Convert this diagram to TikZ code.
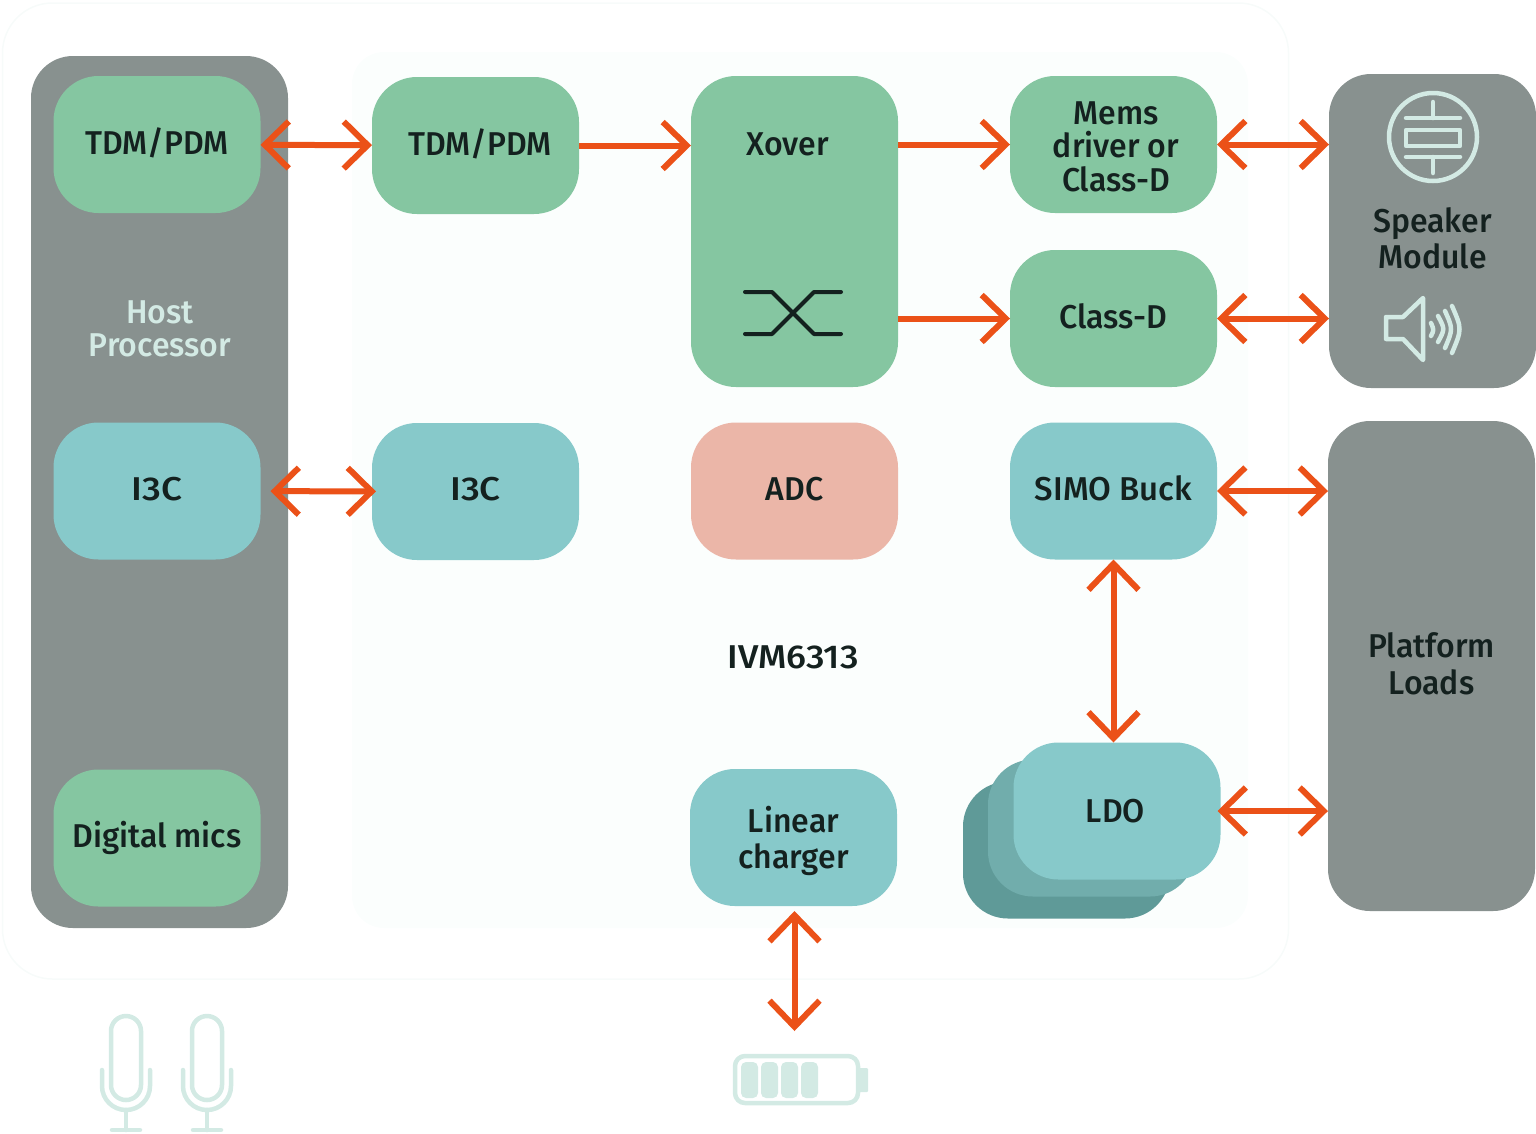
\documentclass[tikz,border=0pt]{standalone}
\usepackage{fontspec}
\setmainfont{Fira Sans Medium}[FakeStretch=0.97]
\usetikzlibrary{arrows.meta}
\definecolor{hostgray}{HTML}{88918F}
\definecolor{blockgreen}{HTML}{85C6A1}
\definecolor{blockteal}{HTML}{87C9CA}
\definecolor{blockred}{HTML}{EBB6A8}
\definecolor{ldomid}{HTML}{71ADAC}
\definecolor{ldoback}{HTML}{5F9A98}
\definecolor{ink}{HTML}{14211F}
\definecolor{pale}{HTML}{D3EAE4}
\definecolor{wire}{HTML}{EB5118}
\definecolor{chipfill}{HTML}{FBFEFD}
\definecolor{frameline}{HTML}{F7FBFA}
\begin{document}
\begin{tikzpicture}[x=1pt, y=-1pt, node distance=319pt,
    >={Straight Barb[length=24pt, width=47pt, line width=6pt]},
    every node/.style={rectangle, align=center, text=ink, inner sep=0pt, outer sep=0pt, font=\fontsize{33}{33.5}\selectfont},
    block/.style={rounded corners=45pt, minimum width=207pt, minimum height=137pt},
    green/.style={block, fill=blockgreen},
    teal/.style={block, fill=blockteal},
    panel/.style={rounded corners=42pt, minimum width=207pt, fill=hostgray},
    wireline/.style={draw=wire, line width=6pt},
    upwire/.style={wireline, >={Straight Barb[length=26pt, width=50pt, line width=6pt]}},
    icon/.style={draw=pale, line width=4.5pt, line cap=round, line join=round}]
        \useasboundingbox (0,0) rectangle (1536,1133);

        % backgrounds
        \node (frame) at (645.5,491) [draw=frameline, line width=1.5pt, rounded corners=50pt, minimum width=1286pt, minimum height=976pt] {};
        \node (chip) at (800,490) [fill=chipfill, rounded corners=32pt, minimum width=896pt, minimum height=876pt] {};

        % left column
        \node (host) at (159.5,492) [panel, minimum width=257pt, minimum height=872pt] {};
        \node (hostlabel) at (160,329) [text=pale] {Host\\Processor};
        \node (tdmhost) at (157,144.5) [green] {\raisebox{7pt}{TDM/PDM}};
        \node (i3chost) [below of=tdmhost, node distance=346.5pt, teal] {\raisebox{5pt}{\scalebox{1.15}[1]{I3C}}};
        \node (mics) [below of=i3chost, node distance=347pt, green] {Digital mics};

        % chip
        \node (tdmchip) at (475.5,145.5) [green] {\hspace*{9pt}\raisebox{7pt}{TDM/PDM}};
        \node (i3cchip) at (475.5,491.5) [teal] {\raisebox{5pt}{\scalebox{1.15}[1]{I3C}}};
        \node (xover) at (794.5,231.5) [green, minimum height=311pt] {};
        \node (xoverlabel) at (788,144) {Xover};
        \node (adc) at (794.5,491) [block, fill=blockred] {\raisebox{5pt}{ADC}};
        \node (ivm) at (793,657) {\scalebox{1.13}[1]{IVM6313}};
        \node (charger) at (793.5,837.5) [teal] {};
        \node (chargerlabel) at (793.5,840.5) {Linear\\[2.5pt]charger};
        \node (mems) at (1113.5,144.5) [green] {};
        \node (memslabel) at (1116,146.5) {Mems\\driver or\\Class-D};
        \node (classd) at (1113.5,318.5) [green] {\raisebox{5pt}{Class-D}};
        \node (simo) at (1113.5,491) [teal] {\raisebox{6pt}{\scalebox{1.03}[1]{SIMO Buck}}};
        \node (ldoback) at (1066.5,850) [block, fill=ldoback] {};
        \node (ldomid) at (1091.5,828) [block, fill=ldomid] {};
        \node (ldo) at (1117,811) [teal] {\hspace*{-3pt}LDO};

        % right column
        \node (speaker) at (1432.5,231) [panel, minimum height=314pt] {};
        \node (speakerlabel) at (1432.5,238.5) {Speaker\\[2.5pt]Module};
        \node (platform) at (1431.5,666) [panel, minimum height=490pt] {};
        \node (platformlabel) at (1431.5,664) {Platform\\[3pt]Loads};

        % free ends
        \coordinate (batterytop) at (794.5,1031);

        \draw[wireline, <->] (tdmhost) -- (tdmchip);
        \draw[wireline, <->, shorten <=10pt, shorten >=-4pt] (i3chost) -- (i3cchip);
        \draw[wireline, ->] (tdmchip) -- (tdmchip -| xover.west);
        \draw[wireline, ->] (xover.east |- mems) -- (mems);
        \draw[wireline, ->] (xover.east |- classd) -- (classd);
        \draw[wireline, <->] (mems) -- (mems -| speaker.west);
        \draw[wireline, <->] (classd) -- (classd -| speaker.west);
        \draw[wireline, <->] (simo) -- (simo -| platform.west);
        \draw[wireline, <->, shorten <=-3pt] (ldo) -- (ldo -| platform.west);
        \draw[upwire, <->] (simo.south) -- (simo.south |- ldo.north);
        \draw[upwire, <->, shorten <=5pt] (charger.south -| batterytop) -- (batterytop);

        % crossover mark
        \draw[draw=ink, line width=4pt, line cap=round, line join=round] (745,292) -- (772,292) -- (814,334) -- (841,334);
        \draw[draw=ink, line width=4pt, line cap=round, line join=round] (745,334) -- (772,334) -- (814,292) -- (841,292);

        % speaker icons
        \draw[icon] (1433,137) circle (44);
        \draw[icon] (1433,102) -- (1433,118);
        \draw[icon] (1406,118) -- (1460,118);
        \draw[icon] (1406,130) rectangle (1460,146);
        \draw[icon] (1406,157) -- (1460,157);
        \draw[icon] (1433,157) -- (1433,173);
        \draw[icon] (1386,317) -- (1403,317) -- (1423,298) -- (1423,360) -- (1403,339) -- (1386,339) -- cycle;
        \draw[icon] (1431,323) .. controls (1434,330) .. (1431,336);
        \draw[icon] (1438,316) .. controls (1445,329) .. (1438,342);
        \draw[icon] (1445,311) .. controls (1453,329) .. (1445,348);
        \draw[icon] (1452,306) .. controls (1462,329) .. (1452,353);

        % mics
        \foreach \dx in {0,81} {
            \draw[icon, rounded corners=15pt] (111+\dx,1016) rectangle (141+\dx,1100);
            \draw[icon] (102+\dx,1070) -- (102+\dx,1086) arc[start angle=180, end angle=360, x radius=24, y radius=-24] -- (150+\dx,1070);
            \draw[icon] (126+\dx,1110) -- (126+\dx,1130);
            \draw[icon] (112+\dx,1130) -- (140+\dx,1130);
        }

        % battery
        \draw[icon, rounded corners=10pt] (735,1056) rectangle (858,1103);
        \foreach \cellx in {741,761,781,801} {
            \fill[pale, rounded corners=5pt] (\cellx,1062) rectangle (\cellx+17,1098);
        }
        \fill[pale, rounded corners=1pt] (858,1068) rectangle (868,1092);
    \end{tikzpicture}
\end{document}
